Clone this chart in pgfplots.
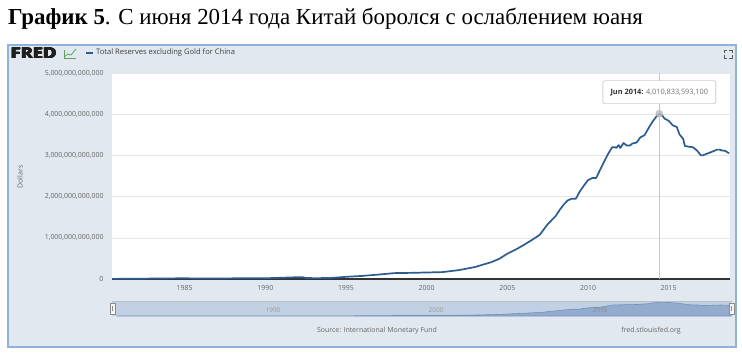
\documentclass[border=0pt]{standalone}
\usepackage{pgfplots}
\pgfplotsset{compat=1.18}
\usepackage{pgfplotstable}
\usepackage{fontspec}
\setmainfont{Liberation Serif}
\newfontfamily\os{Open Sans}
\definecolor{boxbg}{HTML}{E1E8F0}
\definecolor{boxln}{HTML}{8DB3DB}
\definecolor{ser}{HTML}{2D5C92}
\definecolor{txt}{HTML}{666666}
\definecolor{navbg}{HTML}{C2D0E3}
\definecolor{navar}{HTML}{8EA8CB}
\definecolor{navln}{HTML}{7291BF}
\pgfplotstableread{
x y
1980.50 0.003
1981.00 0.004
1982.00 0.005
1983.00 0.011
1984.00 0.015
1985.00 0.017
1986.00 0.013
1987.00 0.012
1988.00 0.016
1989.00 0.019
1990.00 0.018
1991.00 0.030
1992.00 0.044
1992.30 0.045
1992.50 0.025
1993.00 0.021
1994.00 0.023
1995.00 0.053
1996.00 0.075
1997.00 0.107
1998.00 0.143
1999.00 0.149
2000.00 0.158
2001.00 0.168
2002.00 0.216
2003.00 0.291
2003.50 0.350
2004.00 0.408
2004.50 0.490
2005.00 0.614
2005.50 0.711
2006.00 0.822
2006.50 0.941
2007.00 1.069
2007.25 1.200
2007.50 1.330
2007.75 1.430
2008.00 1.530
2008.25 1.680
2008.50 1.810
2008.75 1.910
2009.00 1.950
2009.25 1.950
2009.50 2.130
2009.75 2.270
2010.00 2.400
2010.25 2.450
2010.50 2.450
2010.75 2.650
2011.00 2.850
2011.25 3.040
2011.50 3.200
2011.67 3.200
2011.75 3.180
2011.90 3.250
2012.00 3.180
2012.20 3.300
2012.40 3.240
2012.60 3.240
2012.75 3.290
2013.00 3.310
2013.25 3.440
2013.50 3.490
2013.75 3.660
2014.00 3.820
2014.25 3.950
2014.42 4.0108
2014.60 3.970
2014.75 3.890
2015.00 3.840
2015.25 3.730
2015.50 3.690
2015.67 3.510
2015.90 3.400
2016.00 3.230
2016.25 3.210
2016.50 3.200
2016.75 3.120
2017.00 3.000
2017.10 3.000
2017.30 3.030
2017.50 3.060
2017.75 3.100
2018.00 3.140
2018.15 3.140
2018.30 3.120
2018.50 3.110
2018.75 3.050
}\reserves
\begin{document}
\begin{tikzpicture}[x=1bp,y=1bp]
\useasboundingbox (0,0) rectangle (742,354);
% title
\node[anchor=base west, inner sep=0pt, font=\fontsize{23}{26}\selectfont] at (8,330) {\textbf{График 5}. С июня 2014 года Китай боролся с ослаблением юаня};
% FRED box
\draw[draw=boxln, line width=1.2bp, fill=boxbg] (8,7) rectangle (736,309);
\foreach \dx in {0,0.35,0.7,1.05}{
\node[anchor=west, inner sep=0pt, font=\os\bfseries\fontsize{15}{15}\selectfont, text=black!88, xscale=1.22] at (10+\dx,300.5) {FRED};
\node[anchor=west, inner sep=0pt, font=\os\bfseries\fontsize{15}{15}\selectfont, text=black!88, xscale=1.22] at (10+\dx,300.9) {FRED};
}
\draw[color=green!35!gray, line width=0.8bp] (64,297) -- (68,300) -- (71,299) -- (76,305);
\draw[color=green!25!gray, line width=0.5bp] (64,296) -- (76,296) (64,296) -- (64,304);
\draw[ser, line width=1.3bp] (86,301) -- (93,301);
\node[anchor=west, inner sep=0pt, font=\os\fontsize{7.6}{8}\selectfont, text=black!75] at (96,301) {Total Reserves excluding Gold for China};
% expand icon
\draw[black!65, line width=0.6bp] (724,301) -- (724,304) -- (727,304) (729,304) -- (732,304) -- (732,301) (732,299) -- (732,296) -- (729,296) (727,296) -- (724,296) -- (724,299);
% y label
\node[rotate=90, font=\os\fontsize{7}{8}\selectfont, text=txt] at (20,177) {Dollars};
% main axis
\begin{axis}[
  at={(112bp,75bp)}, anchor=south west,
  width=618bp, height=206bp, scale only axis,
  xmin=1980.5, xmax=2018.8, ymin=0, ymax=5,
  axis background/.style={fill=white},
  axis line style={draw=none},
  major tick length=0pt,
  ytick={0,1,2,3,4,5},
  yticklabels={0,{1,000,000,000,000},{2,000,000,000,000},{3,000,000,000,000},{4,000,000,000,000},{5,000,000,000,000}},
  xtick={1985,1990,1995,2000,2005,2010,2015},
  xticklabels={1985,1990,1995,2000,2005,2010,2015},
  ticklabel style={font=\os\fontsize{7}{8}\selectfont, text=txt},
  /pgf/number format/assume math mode=true,
  yticklabel style={xshift=-5bp},
  xticklabel style={yshift=-3bp},
  ymajorgrids, grid style={color=black!10, line width=0.6bp},
  clip=false,
]
\draw[black!80, line width=1.8bp] (axis cs:1980.5,0) -- (axis cs:2018.8,0);
\draw[black!22, line width=0.8bp] (axis cs:2014.42,0) -- (axis cs:2014.42,5);
\addplot[ser, line width=1.7bp, line join=round] table[x=x,y=y] {\reserves};
\addplot[only marks, mark=*, mark size=3.5bp, mark options={fill=black!25, draw=black!30, fill opacity=0.8}] coordinates {(2014.42,4.0108)};
\node[draw=black!35, fill=white, rounded corners=1.5bp, minimum width=113bp, minimum height=23bp, inner sep=0pt, anchor=center, font=\os\fontsize{7.4}{8}\selectfont, yshift=21.5bp] at (axis cs:2014.42,4.0108) {\textcolor{black!80}{\bfseries Jun 2014:} \textcolor{black!55}{4,010,833,593,100}};
\end{axis}
% navigator
\fill[navbg] (112,38) rectangle (732,53);
\node[font=\os\fontsize{6.5}{7}\selectfont, text=black!40] at (273,44) {1990};
\node[font=\os\fontsize{6.5}{7}\selectfont, text=black!40] at (436,44) {2000};
\begin{axis}[
  at={(112bp,38bp)}, anchor=south west,
  width=620bp, height=15bp, scale only axis,
  xmin=1980.2, xmax=2018.8, ymin=0, ymax=4.3,
  hide axis, clip=true,
]
\addplot[fill=navar, fill opacity=0.9, draw=navln, line width=0.6bp] table[x=x,y=y] {\reserves} \closedcycle;
\end{axis}
\node[font=\os\fontsize{6.5}{7}\selectfont, text=black!45] at (600,44) {2010};
\draw[black!25, line width=0.5bp] (112,53) -- (732,53);
\draw[black!45, fill=black!4, line width=0.5bp] (110,40) rectangle (115,51);
\draw[black!45, line width=0.4bp] (112.5,43) -- (112.5,48);
\draw[black!45, fill=black!4, line width=0.5bp] (729,40) rectangle (734,51);
\draw[black!45, line width=0.4bp] (731.5,43) -- (731.5,48);
% source
\node[font=\os\fontsize{7}{8}\selectfont, text=txt] at (377,23) {Source: International Monetary Fund};
\node[font=\os\fontsize{7}{8}\selectfont, text=txt] at (651,23) {fred.stlouisfed.org};
\end{tikzpicture}
\end{document}
